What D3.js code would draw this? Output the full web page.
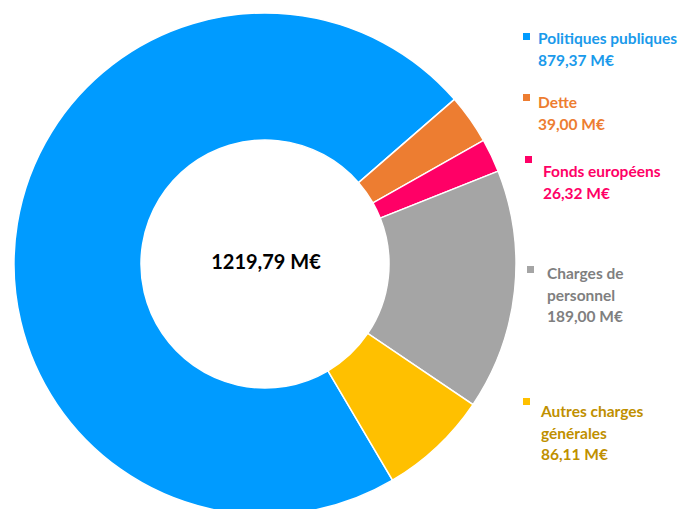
<!DOCTYPE html>
<html><head><meta charset="utf-8">
<script src="https://cdn.jsdelivr.net/npm/d3@7"></script>
<style>html,body{margin:0;padding:0;background:#fff;} svg{display:block;}</style>
</head><body>
<svg id="c" width="686" height="509"></svg>
<script>
const categories = ["Politiques publiques", "Dette", "Fonds européens", "Charges de personnel", "Autres charges générales"];
const values = [879.37, 39.00, 26.32, 189.00, 86.11];
const valueLabels = ["879,37 M€", "39,00 M€", "26,32 M€", "189,00 M€", "86,11 M€"];
const labelLines = [["Politiques publiques"], ["Dette"], ["Fonds européens"], ["Charges de", "personnel"], ["Autres charges", "générales"]];
const totalLabel = "1219,79 M€";
const sliceColors = ["#009BFF", "#ED7D31", "#FF0066", "#A5A5A5", "#FFC000"];
const textColors = ["#1A9AEB", "#ED7D31", "#FF0066", "#7F7F7F", "#BF9000"];

const svg = d3.select("#c");
const cx = 265, cy = 264, rOuter = 251, rInner = 124;
const total = d3.sum(values);
const deg = Math.PI / 180;
const start = 49 * deg - values[0] / total * 2 * Math.PI;
const pie = d3.pie().sort(null).value(d => d).startAngle(start).endAngle(start + 2 * Math.PI);
const arc = d3.arc().innerRadius(rInner).outerRadius(rOuter);
const g = svg.append("g").attr("transform", `translate(${cx},${cy})`);
g.selectAll("path").data(pie(values)).join("path")
  .attr("d", arc).attr("fill", (d, i) => sliceColors[i])
  .attr("stroke", "#fff").attr("stroke-width", 1.5);

g.append("text").attr("x", 1).attr("y", -2).attr("text-anchor", "middle").attr("dy", "0.35em")
  .attr("font-family", "Lato, sans-serif").attr("font-weight", "bold")
  .attr("font-size", 20).attr("fill", "#000").text(totalLabel);

// legend positions (layout)
const legendPos = [
  {sx: 523, sy: 33, tx: 538, ty: 44},
  {sx: 523, sy: 94, tx: 538, ty: 108},
  {sx: 525, sy: 156, tx: 543, ty: 177},
  {sx: 527, sy: 266, tx: 547, ty: 279},
  {sx: 523, sy: 398, tx: 541, ty: 417}
];
const lh = 21.5;
const lg = svg.append("g").attr("font-family", "Lato, sans-serif").attr("font-weight", "bold").attr("font-size", 15.5);
categories.forEach((c, i) => {
  const p = legendPos[i];
  lg.append("rect").attr("x", p.sx).attr("y", p.sy).attr("width", 7).attr("height", 7).attr("fill", sliceColors[i]);
  const lines = labelLines[i].concat([valueLabels[i]]);
  lines.forEach((t, j) => {
    lg.append("text").attr("x", p.tx).attr("y", p.ty + j * lh).attr("fill", textColors[i]).text(t);
  });
});
</script>
</body></html>
